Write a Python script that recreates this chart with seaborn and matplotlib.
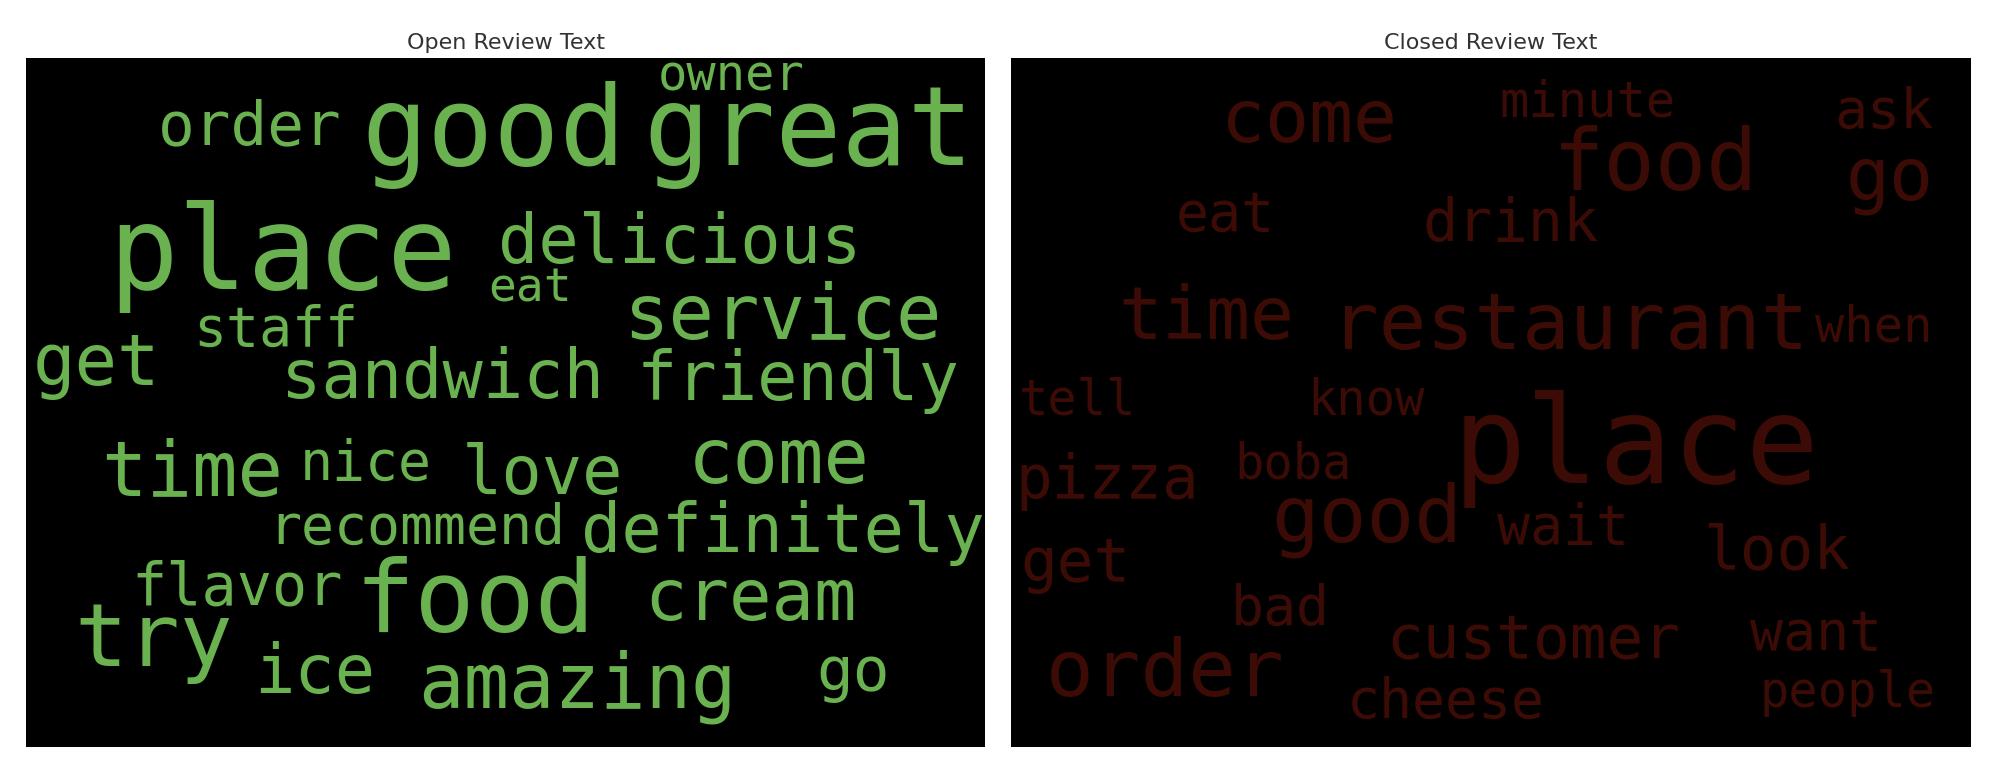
import matplotlib
matplotlib.use("Agg")
import matplotlib.pyplot as plt
import seaborn as sns

sns.set_style("white")

open_words = ["owner","order","good","great","place","delicious","eat","service","staff","get",
              "sandwich","friendly","time","nice","love","come","recommend","definitely","flavor",
              "food","cream","try","ice","amazing","go"]
open_size = [40,50,90,90,95,55,38,62,45,58,55,55,62,45,55,62,45,55,48,82,58,72,55,62,50]
open_x = [570,195,385,630,220,530,413,610,215,75,345,622,150,285,423,607,325,610,185,370,585,120,245,450,665]
open_y = [60,100,105,105,200,190,225,248,258,285,295,297,370,362,370,360,412,415,458,470,468,500,525,535,525]

closed_words = ["come","minute","ask","food","go","eat","drink","time","restaurant","when","tell","know",
                "place","pizza","boba","good","wait","get","look","bad","customer","want","order","cheese","people"]
closed_size = [60,40,45,70,60,45,48,60,65,40,40,40,100,50,40,65,45,50,50,45,50,45,65,45,40]
closed_x = [1020,1237,1468,1290,1473,955,1177,940,1223,1460,840,1065,1275,863,1008,1065,1218,838,1385,998,1195,1415,908,1127,1440]
closed_y = [95,80,88,130,140,168,175,248,255,255,312,312,350,375,362,405,412,440,430,475,500,495,525,548,540]

S = 2012/1568
fig = plt.figure(figsize=(20.12, 7.82), dpi=100)
W, H = 1568, 782/S
panels = [
    ("Open Review Text", 20, open_words, open_size, open_x, open_y, "#6ab150", "DejaVu Sans Mono"),
    ("Closed Review Text", 788, closed_words, closed_size, closed_x, closed_y, "#3d0b05", "DejaVu Sans Mono"),
]
for title, x0, words, sizes, xs, ys, col, fam in panels:
    ax = fig.add_axes([x0/W, 1-582/H, 748/W, 537/H])
    ax.set_facecolor("black")
    ax.set_xlim(x0, x0+748)
    ax.set_ylim(582, 45)
    ax.set_xticks([]); ax.set_yticks([])
    for s in ax.spines.values():
        s.set_visible(False)
    for w, sz, x, y in zip(words, sizes, xs, ys):
        ax.text(x, y, w, color=col, fontsize=sz*S*0.72*0.95, family=fam, ha="center", va="center")
    ax.set_title(title, fontsize=16, color="#333333", pad=6)

fig.savefig("out.png", dpi=100, facecolor="white")
